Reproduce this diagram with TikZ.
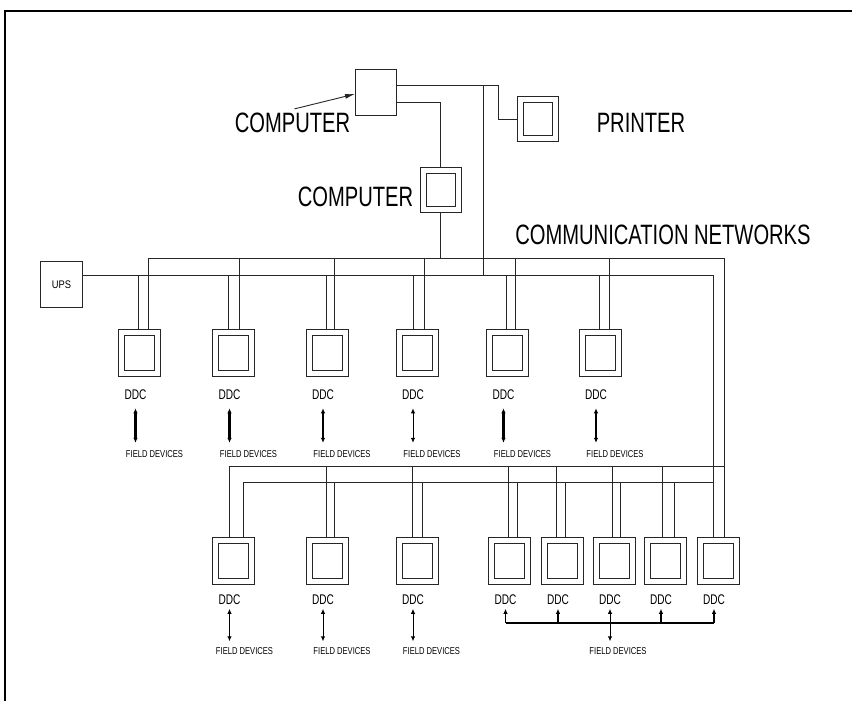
\documentclass[tikz,border=0pt]{standalone}
\usepackage{graphicx}
\usepackage{fontspec}
\setmainfont{Liberation Sans}
\usetikzlibrary{arrows.meta}
\usetikzlibrary{calc,positioning}
\colorlet{wirecol}{black!85}
\tikzset{>={Latex[length=5pt,width=4.5pt]}}
\newcommand{\condensed}[2][0.72]{\scalebox{#1}[1]{#2}}
\tikzstyle{wire} = [line width=0.9pt, color=wirecol]
\tikzstyle{unit} = [%
					draw=wirecol, line width=1pt,
					double=white, double distance=5pt,
					minimum width=36pt, minimum height=41pt,
					inner sep=0pt, outer sep=3.5pt
					]
\tikzstyle{plainbox} = [draw=wirecol, line width=1pt, minimum width=41pt, minimum height=46pt, inner sep=0pt]
\tikzstyle{biglbl} = [inner sep=0pt, font=\fontsize{28}{30}\selectfont]
\tikzstyle{ddclbl} = [inner sep=0pt, font=\fontsize{14}{16}\selectfont]
\tikzstyle{fdlbl} = [inner sep=0pt, font=\fontsize{10}{12}\selectfont]

\begin{document}
\begin{tikzpicture}[x=1pt,y=-1pt]
  \useasboundingbox (0,0) rectangle (852,701);
  % FRAME
  \draw[line width=1.5pt] (5,712) -- (5,11) -- (862,11);

  % HEAD END
  \node[plainbox] (pc1) at (376,92.5) {};
  \node[unit,minimum width=35pt,minimum height=39pt] (prn) at (538,119) {};
  \node[unit,minimum width=35pt,minimum height=39pt] (pc2) at (440.5,190) {};
  \node[plainbox,minimum width=42pt,font=\fontsize{11}{12}\selectfont] (ups) at (61.5,284.5) {\condensed[0.85]{UPS}};

  \node[biglbl] (lblpc1) at (292.5,123) {\condensed{COMPUTER}};
  \node[biglbl] (lblpc2) at (355.5,197) {\condensed{COMPUTER}};
  \node[biglbl] (lblprn) at (641,123) {\condensed{PRINTER}};
  \node[biglbl] (lblnet) at (663,235) {\condensed{COMMUNICATION NETWORKS}};
  \draw[wire,-{Latex[length=10pt,width=5pt]}] ([xshift=2pt,yshift=4pt]lblpc1.north) -- ([yshift=-1.5pt]pc1.west);

  % BUSES
  \coordinate (upbus) at (0,258);
  \coordinate (lowbus) at (0,275);
  \coordinate (upbus2) at (0,466);
  \coordinate (lowbus2) at (0,482);
  \coordinate (tee) at ([xshift=86pt,yshift=7.5pt]pc1.east);

  \draw[wire] ([yshift=7.5pt]pc1.east) -- ++(101,0) |- (prn.west);
  \draw[wire] (tee) -- (tee |- lowbus);
  \draw[wire] ([yshift=-9.5pt]pc1.east) -| (pc2.north);
  \draw[wire] (pc2.south) -- (pc2.south |- upbus);

  % DDC ROW 1
  \foreach \i/\x/\a/\b in {1/139.5/-1.5/8.5, 2/233.5/-5.5/5.5, 3/327/-1/7,
                           4/417/-3.5/7, 5/507.5/-1.5/7.5, 6/600/-1/9}{
    \node[unit] (d\i) at (\x,353) {};
    \draw[wire] ([xshift=\a pt]d\i.north) -- ([xshift=\a pt]d\i.north |- lowbus);
    \draw[wire] ([xshift=\b pt]d\i.north) -- ([xshift=\b pt]d\i.north |- upbus);
  }
  \foreach \i/\w in {1/2.2, 2/2.2, 3/2.2, 4/1, 5/2.2, 6/2.2}{
    \node[ddclbl,below=13pt of d\i,xshift=-4pt] (dl\i) {\condensed{DDC}};
    \node[fdlbl,below=50.5pt of dl\i,xshift=19pt] (df\i) {\condensed[0.76]{FIELD DEVICES}};
    \draw[black,line width=\w pt,<->,shorten <=8pt,shorten >=8pt] (dl\i.south) -- (dl\i.south |- df\i.north);
  }

  % DDC ROW 2
  \foreach \i/\x/\a/\b in {1/233.5/-4.5/9.5, 2/327/-1/7, 3/417/-5/5, 4/509.5/-1.5/7.5,
                           5/562/-6/3, 6/614/-2/6, 7/665/-3/9, 8/718/6/-5}{
    \node[unit] (e\i) at (\x,560.5) {};
    \draw[wire] ([xshift=\a pt]e\i.north) -- ([xshift=\a pt]e\i.north |- upbus2);
    \draw[wire] ([xshift=\b pt]e\i.north) -- ([xshift=\b pt]e\i.north |- lowbus2);
    \node[ddclbl,below=10pt of e\i,xshift=-4pt] (el\i) {\condensed{DDC}};
  }
  \draw[wire] (ups.east |- lowbus) -| ([xshift=-5pt]e8.north);
  \draw[wire] ([xshift=8.5pt]d1.north |- upbus) -| ([xshift=6pt]e8.north);
  \draw[wire] ([xshift=-4.5pt]e1.north |- upbus2) -- ([xshift=6pt]e8.north |- upbus2);
  \draw[wire] ([xshift=9.5pt]e1.north |- lowbus2) -- ([xshift=-5pt]e8.north |- lowbus2);

  \foreach \i/\s in {1/15, 2/19, 3/18.5}{
    \node[fdlbl,below=43pt of el\i,xshift=\s pt] (ef\i) {\condensed[0.76]{FIELD DEVICES}};
    \draw[black,line width=1pt,<->,shorten <=4pt,shorten >=6.5pt] (el\i.south) -- (el\i.south |- ef\i.north);
  }

  % SHARED FIELD DEVICES
  \coordinate (brk) at (0,623);
  \node[fdlbl,below=43pt of el6,xshift=8pt] (ef6) {\condensed[0.76]{FIELD DEVICES}};
  \draw[black,line width=2.2pt] (el4.south |- brk) -- (el8.south |- brk);
  \foreach \k in {4,5,7,8}
    \draw[black,line width=1.5pt,->,shorten >=4pt] (el\k.south |- brk) -- (el\k.south);
  \draw[black,line width=1pt,<->,shorten <=4pt,shorten >=6.5pt] (el6.south) -- (el6.south |- ef6.north);
\end{tikzpicture}
\end{document}
